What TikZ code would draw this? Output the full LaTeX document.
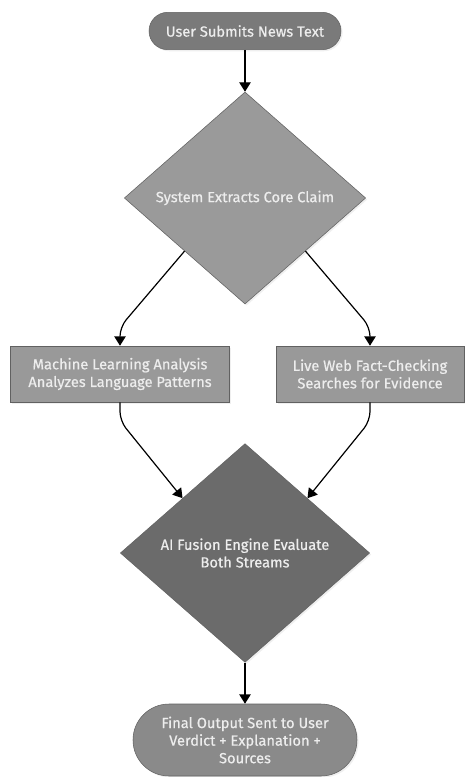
\documentclass[tikz,border=0pt]{standalone}
\usepackage{fontspec}
\setmainfont{Fira Sans}[FakeBold=0.6]
\usetikzlibrary{shapes.geometric,shapes.misc,arrows.meta,shadows}

\definecolor{startgray}{HTML}{7A7A7A}
\definecolor{claimgray}{HTML}{9A9A9A}
\definecolor{boxgray}{HTML}{999999}
\definecolor{fusegray}{HTML}{6B6B6B}
\definecolor{endgray}{HTML}{8A8A8A}

\tikzset{
  base/.style={draw=black!62, thin, text=white!93!black, align=center,
    font=\fontsize{11}{13.2}\selectfont, inner sep=2pt,
    drop shadow={opacity=0.12,shadow xshift=1.2pt,shadow yshift=-1.2pt}},
  pill/.style={base, rounded rectangle},
  decide/.style={base, diamond, inner sep=0pt},
  procbox/.style={base, rectangle},
  arr/.style={-{Triangle[length=7pt,width=8.5pt]}, line width=0.9pt, black, rounded corners=7pt},
}

\begin{document}
\begin{tikzpicture}[x=0.75pt,y=-0.75pt]
\useasboundingbox[fill=white] (0,0) rectangle (464,777);

% Start and claim extraction
\node[pill, fill=startgray, minimum width=148pt, minimum height=28pt] (submit) at (245,31) {User Submits News Text};
\node[decide, fill=claimgray, minimum width=181pt, minimum height=159pt] (claim) at (245,198) {System Extracts Core Claim};

% Two analysis streams
\node[procbox, fill=boxgray, minimum width=164pt, minimum height=42pt] (mlbox) at (120,374) {Machine Learning Analysis\\Analyzes Language Patterns};
\node[procbox, fill=boxgray, minimum width=141pt, minimum height=42pt] (webbox) at (370,374) {Live Web Fact-Checking\\Searches for Evidence};

% Fusion and output
\node[decide, fill=fusegray, minimum width=187pt, minimum height=164pt] (fusion) at (245,553) {AI Fusion Engine Evaluate\\Both Streams};
\node[pill, fill=endgray, minimum width=172pt, minimum height=54pt] (output) at (245,740) {Final Output Sent to User\\Verdict + Explanation +\\Sources};

% Connectors
\draw[arr] (submit.south) -- (claim.north);
\draw[arr] (claim.south west) -- ([yshift=14pt]mlbox.north) -- (mlbox.north);
\draw[arr] (claim.south east) -- ([yshift=14pt]webbox.north) -- (webbox.north);
\draw[arr] (mlbox.south) -- ([yshift=-14pt]mlbox.south) -- (fusion.north west);
\draw[arr] (webbox.south) -- ([yshift=-14pt]webbox.south) -- (fusion.north east);
\draw[arr] (fusion.south) -- (output.north);

\end{tikzpicture}
\end{document}
